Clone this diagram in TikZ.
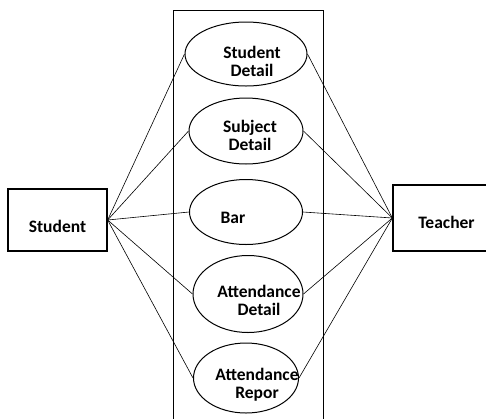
\documentclass[tikz,border=0pt]{standalone}
\usepackage{fontspec}
\setmainfont{Carlito}
\usetikzlibrary{shapes.geometric}
\begin{document}
\begin{tikzpicture}[x=1pt,y=-1pt,
  box/.style={draw,line width=1.3pt,inner sep=0},
  uc/.style={draw,ellipse,line width=1pt,inner sep=0},
  lbl/.style={font=\fontsize{17.5}{18}\selectfont\bfseries,align=center,inner sep=0},
  conn/.style={line width=0.6pt}]
\useasboundingbox (0,0) rectangle (486,418);
\clip (0,0) rectangle (486,418);
% system boundary
\node[box,minimum width=150,minimum height=430,anchor=north west] (sys) at (173,10) {};
% actors
\node[box,minimum width=99,minimum height=62] (student) at (57.5,220) {};
\node[lbl] (tstudent) at ([yshift=-6]student.center) {Student};
\node[box,minimum width=107,minimum height=66] (teacher) at (446.5,218) {};
\node[lbl] (tteacher) at ([yshift=-4]teacher.center) {Teacher};
% use cases
\node[uc,minimum width=122,minimum height=64] (e1) at (246,54) {};
\node[lbl] (t1) at (252,61) {Student\\Detail};
\node[uc,minimum width=114,minimum height=66] (e2) at (246,131) {};
\node[lbl] (t2) at (250,135) {Subject\\Detail};
\node[uc,minimum width=113,minimum height=65] (e3) at (246,212) {};
\node[lbl] (t3) at (233,218) {Bar};
\node[uc,minimum width=110,minimum height=77] (e4) at (248,294) {};
\node[lbl] (t4) at (259,300) {Attendance\\Detail};
\node[uc,minimum width=105,minimum height=70] (e5) at (246,378) {};
\node[lbl] (t5) at (257,385) {Attendance\\Repor};
% connectors
\foreach \e in {e1,e2,e3,e4,e5}{
  \draw[conn] (student.east) -- (\e.west);
  \draw[conn] (teacher.west) -- (\e.east);
}
\end{tikzpicture}
\end{document}
